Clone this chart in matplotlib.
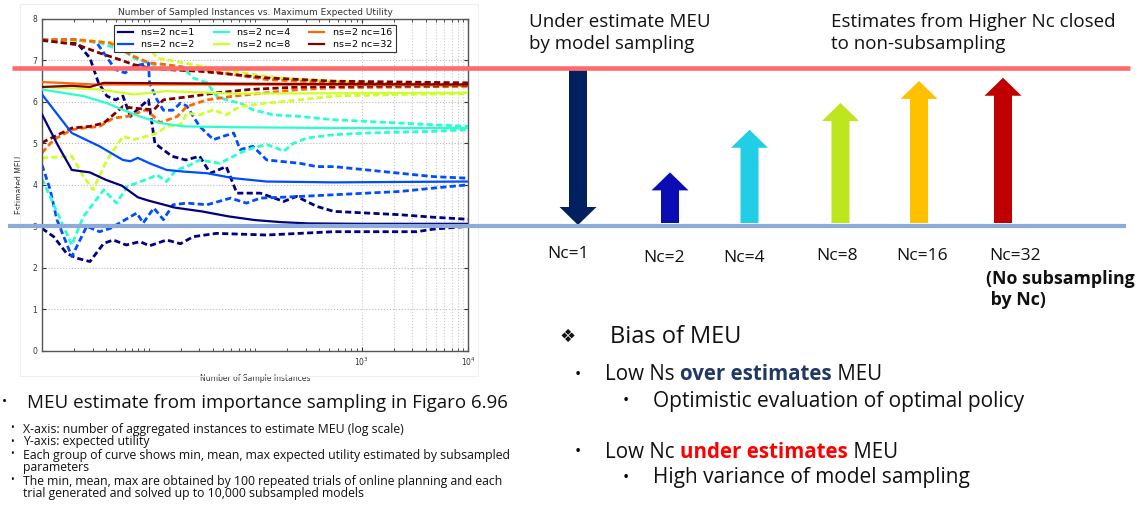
import numpy as np
import matplotlib.pyplot as plt
from matplotlib.ticker import FixedLocator, LogLocator, NullFormatter
from matplotlib.patches import Polygon, Rectangle

# x values are log10(number of sample instances), y is estimated MEU
nc_values = [1, 2, 4, 8, 16, 32]

nc1_mean = [[0, 5.70], [0.15, 4.95], [0.28, 4.36], [0.45, 4.30], [0.6, 4.12], [0.75, 3.98],
            [0.9, 3.70], [1.0, 3.62], [1.25, 3.45], [1.5, 3.36], [1.75, 3.24], [2.0, 3.15],
            [2.25, 3.10], [2.5, 3.07], [3.0, 3.06], [4.0, 3.06]]
nc1_max = [[0, 7.48], [0.33, 7.42], [0.45, 7.06], [0.53, 6.46], [0.61, 6.14], [0.69, 6.05],
           [0.76, 6.14], [0.83, 5.65], [0.93, 5.90], [1.0, 6.05], [1.06, 5.0], [1.22, 4.69],
           [1.35, 4.60], [1.48, 4.69], [1.58, 4.28], [1.73, 4.44], [1.83, 3.80], [2.05, 3.80],
           [2.27, 3.60], [2.39, 3.72], [2.58, 3.48], [2.74, 3.36], [3.36, 3.28], [3.67, 3.22],
           [4.0, 3.17]]
nc1_min = [[0, 2.95], [0.11, 2.75], [0.23, 2.35], [0.33, 2.23], [0.45, 2.15], [0.58, 2.59],
           [0.67, 2.67], [0.79, 2.55], [0.92, 2.63], [1.01, 2.53], [1.17, 2.67], [1.30, 2.58],
           [1.42, 2.75], [1.64, 2.83], [2.11, 2.79], [2.42, 2.83], [2.74, 2.87], [3.05, 2.87],
           [3.52, 2.87], [3.67, 2.93], [4.0, 3.0]]

nc2_mean = [[0, 6.18], [0.28, 5.25], [0.54, 4.93], [0.76, 4.60], [0.83, 4.57], [0.9, 4.65],
            [1.01, 4.52], [1.17, 4.36], [1.33, 4.32], [1.55, 4.28], [1.80, 4.16], [2.11, 4.08],
            [2.74, 4.06], [4.0, 4.08]]
nc2_max = [[0, 7.5], [0.3, 7.5], [0.51, 7.44], [0.69, 6.78], [0.78, 6.70], [0.86, 6.86],
           [1.0, 6.94], [1.01, 6.46], [1.08, 6.05], [1.14, 5.80], [1.23, 5.80], [1.30, 5.97],
           [1.36, 5.90], [1.42, 5.65], [1.48, 5.41], [1.61, 5.09], [1.70, 5.17], [1.80, 5.25],
           [1.86, 4.85], [1.98, 4.93], [2.11, 4.60], [2.42, 4.52], [2.58, 4.44], [2.74, 4.44],
           [3.05, 4.36], [3.36, 4.28], [3.67, 4.20], [4.0, 4.16]]
nc2_min = [[0, 4.48], [0.075, 3.90], [0.14, 3.16], [0.28, 2.27], [0.42, 3.0], [0.54, 2.87],
           [0.64, 2.95], [0.89, 3.32], [0.95, 3.08], [1.05, 3.44], [1.14, 3.16], [1.23, 3.52],
           [1.36, 3.56], [1.55, 3.52], [1.77, 3.68], [1.92, 3.56], [2.05, 3.68], [2.42, 3.72],
           [2.89, 3.78], [3.36, 3.84], [3.67, 3.92], [4.0, 4.0]]

nc4_mean = [[0, 6.30], [0.39, 6.14], [0.61, 5.97], [0.76, 5.81], [0.92, 5.65], [1.11, 5.49],
            [1.33, 5.41], [1.80, 5.39], [2.74, 5.37], [4.0, 5.37]]
nc4_max = [[0, 7.5], [0.51, 7.46], [0.64, 7.34], [0.8, 7.18], [0.86, 7.06], [0.95, 6.98],
           [1.11, 6.85], [1.31, 6.86], [1.42, 6.58], [1.55, 6.46], [1.64, 6.14], [1.73, 6.05],
           [1.86, 5.97], [1.98, 5.81], [2.17, 5.69], [2.42, 5.65], [2.74, 5.57], [3.05, 5.53],
           [3.36, 5.49], [3.67, 5.45], [4.0, 5.41]]
nc4_min = [[0, 4.15], [0.28, 2.55], [0.39, 3.24], [0.58, 3.88], [0.70, 3.56], [0.80, 3.96],
           [1.0, 4.15], [1.08, 4.24], [1.17, 4.08], [1.26, 4.36], [1.36, 4.44], [1.48, 4.60],
           [1.67, 4.52], [1.86, 4.77], [1.98, 4.89], [2.11, 4.97], [2.2, 4.89], [2.27, 4.81],
           [2.36, 5.0], [2.49, 5.13], [2.74, 5.21], [3.05, 5.25], [3.67, 5.29], [4.0, 5.33]]

nc8_mean = [[0, 6.36], [0.54, 6.30], [0.86, 6.18], [1.17, 6.26], [1.80, 6.20], [4.0, 6.22]]
nc8_max = [[0, 7.5], [0.54, 7.46], [1.0, 7.34], [1.08, 7.06], [1.5, 6.86], [1.8, 6.74],
           [2.1, 6.62], [2.4, 6.54], [2.74, 6.50], [3.36, 6.42], [4.0, 6.39]]
nc8_min = [[0, 4.65], [0.28, 4.69], [0.39, 4.20], [0.48, 3.88], [0.61, 4.60], [0.76, 5.17],
           [0.86, 5.09], [0.98, 5.17], [1.08, 5.25], [1.17, 5.41], [1.30, 5.45], [1.36, 5.73],
           [1.48, 5.69], [1.61, 5.81], [1.73, 5.69], [1.86, 5.89], [2.11, 5.97], [2.42, 6.05],
           [2.74, 6.14], [3.36, 6.18], [4.0, 6.20]]

nc16_mean = [[0, 6.48], [0.5, 6.42], [1.5, 6.42], [4.0, 6.40]]
nc16_max = [[0, 7.5], [0.33, 7.5], [0.64, 7.42], [0.86, 7.10], [1.01, 6.94], [1.17, 6.90],
            [1.48, 6.78], [1.80, 6.66], [2.11, 6.54], [2.74, 6.46], [4.0, 6.42]]
nc16_min = [[0, 4.77], [0.11, 5.09], [0.28, 5.33], [0.39, 5.37], [0.54, 5.41], [0.67, 5.61],
            [0.80, 5.65], [0.98, 5.81], [1.11, 5.50], [1.27, 5.65], [1.36, 5.89], [1.55, 6.05],
            [1.80, 6.14], [2.11, 6.22], [2.42, 6.30], [2.74, 6.34], [3.36, 6.36], [4.0, 6.38]]

nc32_mean = [[0, 6.36], [0.28, 6.39], [0.45, 6.36], [0.58, 6.46], [1.8, 6.44], [4.0, 6.42]]
nc32_max = [[0, 7.49], [0.33, 7.38], [0.54, 7.18], [0.73, 7.02], [0.86, 6.90], [1.01, 6.82],
            [1.17, 6.78], [1.48, 6.74], [1.80, 6.66], [2.11, 6.58], [2.74, 6.50], [4.0, 6.46]]
nc32_min = [[0, 5.02], [0.28, 5.37], [0.45, 5.41], [0.58, 5.49], [0.67, 5.69], [0.76, 5.89],
            [0.86, 5.85], [1.05, 5.81], [1.14, 6.05], [1.42, 6.14], [1.64, 6.22], [1.95, 6.30],
            [2.42, 6.36], [3.05, 6.38], [4.0, 6.39]]

groups = [(nc1_mean, nc1_max, nc1_min), (nc2_mean, nc2_max, nc2_min),
          (nc4_mean, nc4_max, nc4_min), (nc8_mean, nc8_max, nc8_min),
          (nc16_mean, nc16_max, nc16_min), (nc32_mean, nc32_max, nc32_min)]

# schematic arrows: fraction of the gap between the two reference lines
arrow_labels = ['Nc=1', 'Nc=2', 'Nc=4', 'Nc=8', 'Nc=16', 'Nc=32']
arrow_levels = [1.0, 0.34, 0.61, 0.78, 0.92, 0.94]
arrow_up = [False, True, True, True, True, True]

W, H = 1142, 508
fig = plt.figure(figsize=(W / 100, H / 100), dpi=100)
fig.patch.set_facecolor('white')

# ---- the matplotlib chart (left) ----
ax = fig.add_axes([42 / W, 1 - 350.7 / H, 426 / W, 331.7 / H])
colors = plt.cm.jet(np.linspace(0, 1, 6))
for i, nc in enumerate(nc_values):
    mean, hi, lo = [np.array(p) for p in groups[i]]
    for pts in (hi, lo):
        ax.plot(10 ** pts[:, 0], pts[:, 1], color=colors[i], lw=2.0,
                ls=(0, (2.2, 1.2)), zorder=2)
    ax.plot(10 ** mean[:, 0], mean[:, 1], color=colors[i], lw=1.6,
            label='ns=2 nc=%d' % nc, zorder=3)

ax.set_xscale('log')
ax.set_xlim(1, 1e4)
ax.set_ylim(0, 8)
ax.xaxis.set_major_locator(FixedLocator([1e3, 1e4]))
ax.xaxis.set_minor_locator(LogLocator(base=10, subs=np.arange(1, 10), numticks=20))
ax.xaxis.set_minor_formatter(NullFormatter())
ax.set_yticks(range(9))
ax.tick_params(which='both', direction='in', top=True, right=True,
               labelsize=5.5, colors='#333333', length=3)
ax.tick_params(which='minor', length=2)
ax.yaxis.grid(True, ls=':', color='#bbbbbb', lw=0.8)
ax.vlines(np.arange(1, 11) * 1000, 0, 8, colors='#c8c8c8', linestyles=':', lw=0.8, zorder=1)
for s in ax.spines.values():
    s.set_color('#555555')
    s.set_linewidth(1.0)
ax.set_title('Number of Sampled Instances vs. Maximum Expected Utility',
             fontsize=6.5, color='#333333', pad=3)
ax.set_xlabel('Number of Sample Instances', fontsize=5.5, color='#333333', labelpad=4)
ax.set_ylabel('Estimated MEU', fontsize=5.5, color='#333333', labelpad=6)
leg = ax.legend(loc='upper center', bbox_to_anchor=(0.5, 0.982), ncol=3, fontsize=6.8,
                fancybox=False, framealpha=1, edgecolor='#333333', borderaxespad=0,
                handlelength=1.6, columnspacing=2.0, handletextpad=0.9,
                borderpad=0.35, labelspacing=0.3)
leg.get_frame().set_linewidth(0.8)

# ---- slide overlay in pixel coordinates ----
ov = fig.add_axes([0, 0, 1, 1], zorder=10)
ov.set_xlim(0, W)
ov.set_ylim(H, 0)
ov.axis('off')
ov.patch.set_alpha(0)

ov.add_patch(Rectangle((20, 4), 458, 372, fill=False, ec='#efefef', lw=0.8))

red_y, blue_y = 68.3, 226
ov.plot([12, 1130], [red_y, red_y], color='#ff6b6b', lw=3.3, solid_capstyle='butt')
ov.plot([8, 1126], [blue_y, blue_y], color='#8eaadb', lw=3.0, solid_capstyle='butt')

sans = ['Open Sans', 'DejaVu Sans']
arrow_colors = ['#002060', '#0c0cb4', '#22cde6', '#bde61e', '#ffc000', '#c00000']
arrow_cx = [578, 670, 749.5, 840.5, 919, 1003]
label_pos = [(568, 254), (664, 258), (744, 258), (837, 256), (922, 256), (1015, 256)]
shaft, head_w, head_l = 18, 37, 18
for i in range(6):
    cx = arrow_cx[i]
    span = blue_y - red_y
    if arrow_up[i]:
        base = 223
        tip = blue_y - arrow_levels[i] * span
        hb = tip + head_l
    else:
        base = red_y + 2
        tip = base + arrow_levels[i] * (span - 3)
        hb = tip - head_l
    pts = [(cx - shaft / 2, base), (cx - shaft / 2, hb), (cx - head_w / 2, hb), (cx, tip),
           (cx + head_w / 2, hb), (cx + shaft / 2, hb), (cx + shaft / 2, base)]
    ov.add_patch(Polygon(pts, closed=True, fc=arrow_colors[i], ec='none'))
    lx, ly = label_pos[i]
    ov.text(lx, ly, arrow_labels[i], fontsize=12.5, family=sans, ha='center',
            va='center', color='#111111')

ov.text(986, 279, '(No subsampling', fontsize=12.8, family=sans, weight='bold',
        ha='left', va='center', color='#111111')
ov.text(986, 300, ' by Nc)', fontsize=12.8, family=sans, weight='bold',
        ha='left', va='center', color='#111111')

ov.text(529, 22, 'Under estimate MEU', fontsize=13.5, family=sans, va='center', color='#111111')
ov.text(529, 44, 'by model sampling', fontsize=13.5, family=sans, va='center', color='#111111')
ov.text(831, 22, 'Estimates from Higher Nc closed', fontsize=13.5, family=sans, va='center',
        color='#111111')
ov.text(831, 44, 'to non-subsampling', fontsize=13.5, family=sans, va='center', color='#111111')

# bias notes
ov.text(568, 337, '\u2756', fontsize=13, family=['DejaVu Sans'], ha='center', va='center',
        color='#111111')
ov.text(610, 337, 'Bias of MEU', fontsize=17, family=sans, va='center', color='#111111')


def rich_line(x, y, parts, size):
    prev = None
    for txt, col, wt in parts:
        if prev is None:
            prev = ov.text(x, y, txt, fontsize=size, family=sans, color=col, weight=wt,
                           va='center')
        else:
            prev = ov.annotate(txt, xy=(1, 0), xycoords=prev, fontsize=size, family=sans,
                               color=col, weight=wt, va='bottom', ha='left')


ov.text(578, 375, '\u2022', fontsize=12, family=sans, ha='center', va='center')
rich_line(605, 375, [('Low Ns ', '#111111', 'normal'), ('over estimates', '#203864', 'bold'),
                     (' MEU', '#111111', 'normal')], 14.8)
ov.text(626, 401, '\u2022', fontsize=12, family=sans, ha='center', va='center')
ov.text(653, 401, 'Optimistic evaluation of optimal policy', fontsize=15, family=sans,
        va='center', color='#111111')
ov.text(578, 452, '\u2022', fontsize=12, family=sans, ha='center', va='center')
rich_line(605, 452, [('Low Nc ', '#111111', 'normal'), ('under estimates', '#ff0000', 'bold'),
                     (' MEU', '#111111', 'normal')], 14.8)
ov.text(626, 478, '\u2022', fontsize=12, family=sans, ha='center', va='center')
ov.text(653, 478, 'High variance of model sampling', fontsize=15, family=sans,
        va='center', color='#111111')

# caption under chart
ov.text(4, 403, '\u2022', fontsize=10, family=sans, ha='center', va='center')
ov.text(27, 403, 'MEU estimate from importance sampling in Figaro 6.96', fontsize=13.5,
        family=sans, va='center', color='#111111')
notes = [(429, True, 'X-axis: number of aggregated instances to estimate MEU (log scale)'),
         (442, True, 'Y-axis: expected utility'),
         (455, True, 'Each group of curve shows min, mean, max expected utility estimated by subsampled'),
         (467, False, 'parameters'),
         (481, True, 'The min, mean, max are obtained by 100 repeated trials of online planning and each'),
         (493, False, 'trial generated and solved up to 10,000 subsampled models')]
for ny, bullet, txt in notes:
    if bullet:
        ov.text(12, ny, '\u2022', fontsize=7, family=sans, ha='center', va='center')
    ov.text(23, ny, txt, fontsize=8.8, family=sans, va='center', color='#111111')

fig.savefig('out.png', dpi=100)
